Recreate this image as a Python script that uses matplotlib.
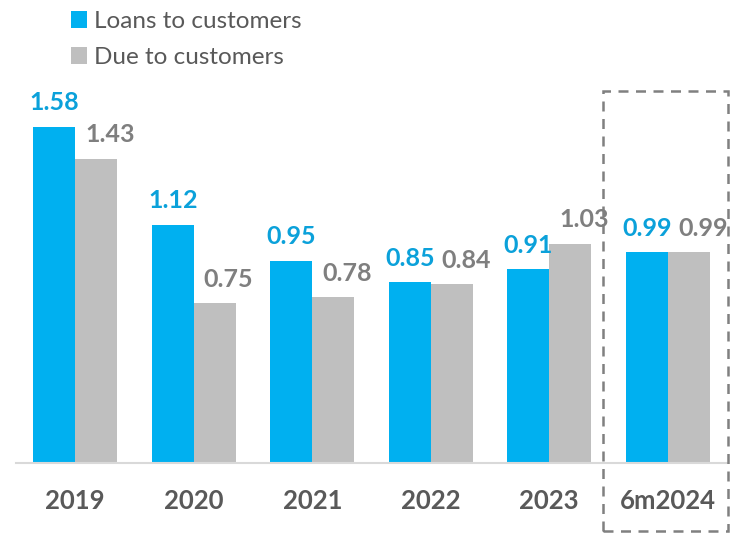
import matplotlib.pyplot as plt
from matplotlib.patches import Rectangle

periods = ["2019", "2020", "2021", "2022", "2023", "6m2024"]
loans = [1.58, 1.12, 0.95, 0.85, 0.91, 0.99]
deposits = [1.43, 0.75, 0.78, 0.84, 1.03, 0.99]

BLUE = "#00B0F0"
GREY = "#BFBFBF"
BLUE_TXT = "#0BA1DA"
GREY_TXT = "#7F7F7F"
DARK = "#595959"

plt.rcParams["font.family"] = ["Lato", "DejaVu Sans"]

fig = plt.figure(figsize=(7.49, 5.34), dpi=100)
ax = fig.add_axes([16 / 749, 71 / 534, 711 / 749, 383 / 534])

w = 0.355
x = list(range(len(periods)))
b1 = ax.bar([i - w / 2 for i in x], loans, w, color=BLUE, label="Loans to customers")
b2 = ax.bar([i + w / 2 for i in x], deposits, w, color=GREY, label="Due to customers")

for rect, v in zip(b1, loans):
    ax.annotate(f"{v:.2f}", (rect.get_x() + rect.get_width() / 2, v),
                xytext=(0, 9), textcoords="offset points", ha="center", va="bottom",
                fontsize=18, fontweight="bold", color=BLUE_TXT)
for rect, v in zip(b2, deposits):
    ax.annotate(f"{v:.2f}", (rect.get_x() + rect.get_width() / 2, v),
                xytext=(10, 9), textcoords="offset points", ha="center", va="bottom",
                fontsize=18, fontweight="bold", color=GREY_TXT)

ax.set_xlim(-0.5, 5.5)
ax.set_ylim(0, 1.8)
ax.set_xticks(x)
ax.set_xticklabels(periods, fontsize=18.5, fontweight="bold", color=DARK)
ax.tick_params(axis="x", length=0, pad=19)
ax.set_yticks([])
for s in ["top", "right", "left"]:
    ax.spines[s].set_visible(False)
ax.spines["bottom"].set_color("#D9D9D9")
ax.spines["bottom"].set_linewidth(1.5)

leg = fig.legend(handles=[b1, b2], loc="upper left", bbox_to_anchor=(60 / 749, 1.0),
                 frameon=False, fontsize=17.5, handlelength=0.65, handleheight=0.65,
                 handletextpad=0.3, labelspacing=0.62, borderaxespad=0.05)
for t in leg.get_texts():
    t.set_color(DARK)

# highlight box around the half-year figures
fig.patches.append(Rectangle((603 / 749, 3 / 534), 125 / 749, 440 / 534,
                             transform=fig.transFigure, fill=False,
                             edgecolor="#808080", linewidth=1.8,
                             linestyle=(0, (4, 3))))

fig.savefig("out.png", dpi=100)
